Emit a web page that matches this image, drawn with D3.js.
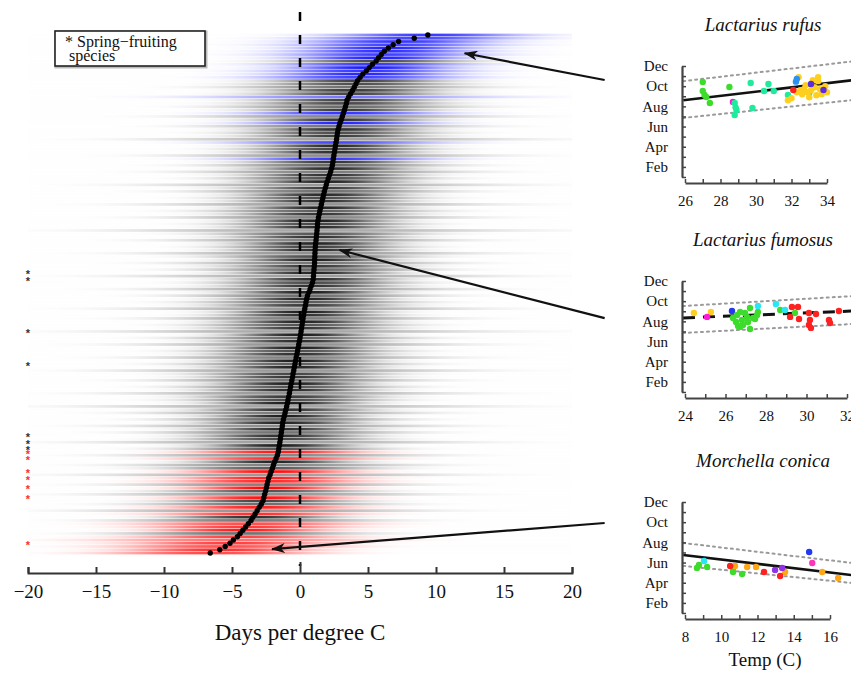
<!DOCTYPE html>
<html><head><meta charset="utf-8">
<script src="https://cdn.jsdelivr.net/npm/d3@7"></script>
<style>
body{margin:0;background:#fff}
svg{display:block}
text{font-family:"Liberation Serif","Times New Roman",serif;fill:#111}
</style>
</head><body>
<svg id="chart" width="851" height="674"></svg>
<script>
// ---------- DATA: main panel (species sorted by response, bottom -> top) ----------
const slopes = [
-6.6,-5.9,-5.5,-5.15,-4.9,-4.6,-4.4,-4.2,-4.0,-3.8,
-3.6,-3.46,-3.3,-3.15,-3.0,-2.85,-2.72,-2.66,-2.6,-2.53,
-2.47,-2.42,-2.37,-2.3,-2.2,-2.12,-2.03,-1.95,-1.86,-1.76,
-1.66,-1.6,-1.56,-1.52,-1.48,-1.44,-1.41,-1.37,-1.34,-1.3,
-1.27,-1.22,-1.16,-1.1,-1.04,-0.98,-0.93,-0.88,-0.83,-0.78,
-0.74,-0.69,-0.65,-0.6,-0.55,-0.51,-0.46,-0.42,-0.37,-0.32,
-0.28,-0.23,-0.18,-0.13,-0.09,-0.05,0.0,0.04,0.08,0.11,
0.15,0.19,0.22,0.26,0.3,0.35,0.4,0.44,0.49,0.55,
0.65,0.74,0.83,0.92,0.97,0.99,1.01,1.03,1.05,1.07,
1.08,1.09,1.1,1.11,1.13,1.15,1.18,1.2,1.23,1.25,
1.27,1.29,1.32,1.36,1.41,1.46,1.52,1.57,1.62,1.68,
1.74,1.79,1.86,1.93,2.0,2.08,2.16,2.25,2.32,2.38,
2.42,2.45,2.49,2.53,2.57,2.61,2.65,2.69,2.72,2.76,
2.8,2.87,2.94,3.03,3.11,3.19,3.27,3.34,3.41,3.46,
3.58,3.72,3.86,3.99,4.12,4.24,4.42,4.62,4.88,5.1,
5.33,5.6,5.78,5.98,6.2,6.5,6.85,7.25,8.4,9.4];

// posterior spread (days per degree) of each species
const spreads = [
4.8,4.2,5.0,4.5,6.0,4.6,5.2,3.8,4.4,4.9,
5.5,3.6,4.2,6.8,3.9,5.1,4.0,3.7,6.5,4.3,
3.5,5.8,4.1,3.9,7.2,3.6,4.5,5.9,3.4,4.2,
6.1,3.8,4.4,3.3,7.5,4.0,3.6,5.2,3.5,6.3,
3.4,4.7,3.2,5.5,3.6,8.0,3.3,4.1,3.8,6.7,
3.5,4.4,3.2,5.3,3.7,4.0,7.0,3.4,4.6,3.3,
5.8,3.6,4.2,3.3,6.4,3.5,4.8,3.2,7.8,3.7,
4.3,3.4,5.6,3.6,3.3,6.9,3.8,4.5,3.4,5.1,
3.3,6.2,3.6,4.1,3.5,7.4,3.4,4.8,3.7,5.4,
3.3,4.2,6.6,3.5,3.9,3.4,5.7,3.6,4.4,8.2,
3.5,4.0,3.3,5.9,3.7,4.6,3.4,6.8,3.6,4.1,
3.5,5.2,3.8,7.1,3.4,4.3,3.6,5.6,3.5,4.9,
3.7,4.4,6.3,3.6,4.0,3.5,4.7,7.6,3.8,4.2,
3.6,5.3,4.0,3.7,6.0,4.3,3.8,5.0,4.1,3.9,
6.4,4.0,3.8,5.2,4.2,3.9,4.6,4.0,4.3,3.8,
4.4,4.1,3.9,4.5,4.2,4.0,4.6,4.3,4.7,4.4];

const blueRows = [121,126,132,135,140,146,147,148,149,150,152,153,154,155,156,157,158,159];
const redRows = [0,1,2,3,4,5,7,8,9,12,14,17,20,22,23,25,29,31];
const springRows = [3,17,20,23,25,29,31,32,34,36,58,68,84,86];
const xTicks = [-20,-15,-10,-5,0,5,10,15,20];
const xTickLabels = ["\u221220","\u221215","\u221210","\u22125","0","5","10","15","20"];

// arrows: from panel side to species in main panel (slope, row)
const arrowFrom = [[22.4,145.2],[22.4,72.1],[22.4,9.2]];
const arrowTo = [[12.1,153.4],[2.9,93.0],[-2.06,1.2]];

// ---------- DATA: side panels ----------
const monthTicks = [1,2,3,4,5,6,7,8,9,10,11,12];
const monthLabels = {2:"Feb",4:"Apr",6:"Jun",8:"Aug",10:"Oct",12:"Dec"};

const rufusPoints = [
[27.0,10.42,"green"],[27.0,9.52,"green"],[27.1,9.13,"green"],[27.2,8.93,"green"],[27.4,8.34,"green"],[28.5,9.92,"green"],
[28.7,8.44,"magenta"],
[28.8,8.34,"teal"],[28.9,7.64,"teal"],[28.8,7.15,"teal"],[28.85,7.9,"teal"],[29.7,10.32,"teal"],[29.8,7.84,"teal"],
[30.45,9.52,"teal"],[30.7,10.22,"teal"],[31.0,9.52,"teal"],[31.8,9.13,"teal"],[33.0,9.33,"teal"],
[31.8,8.6,"yellow"],[32.0,8.8,"yellow"],[32.4,10.9,"yellow"],[32.5,9.6,"yellow"],[32.6,9.2,"yellow"],[32.8,10.1,"yellow"],
[32.9,9.4,"yellow"],[33.0,8.9,"yellow"],[33.2,10.6,"yellow"],[33.3,9.9,"yellow"],[33.4,9.1,"yellow"],[33.5,10.5,"yellow"],
[33.6,9.7,"yellow"],[33.7,9.2,"yellow"],[34.0,9.4,"yellow"],[33.9,10.0,"yellow"],[32.3,9.4,"yellow"],[33.1,9.6,"yellow"],
[32.7,9.7,"yellow"],[33.5,10.9,"yellow"],
[32.1,9.62,"red"],[32.3,10.71,"blue"],[32.25,10.45,"blue"],[33.1,10.22,"purple"],[33.8,9.62,"purple"]];

const fumosusPoints = [
[24.44,8.83,"yellow"],[25.28,8.93,"yellow"],[25.09,8.44,"magenta"],[26.32,9.03,"navy"],
[26.37,8.34,"green"],[26.57,8.63,"green"],[26.72,8.93,"green"],[26.81,8.14,"green"],[26.86,7.64,"green"],[26.72,7.45,"green"],
[27.06,8.44,"green"],[26.96,8.83,"green"],[27.11,7.94,"green"],[27.21,9.33,"green"],[27.21,7.25,"green"],[27.36,8.34,"green"],
[27.56,8.63,"green"],[27.6,8.93,"green"],[27.46,8.24,"green"],[28.7,9.13,"green"],[29.43,8.83,"green"],[26.52,7.94,"green"],[26.62,7.55,"green"],
[27.6,9.52,"cyan"],[28.49,9.72,"cyan"],[28.94,9.13,"cyan"],
[29.28,9.43,"red"],[29.58,9.43,"red"],[29.19,8.44,"red"],[29.63,8.24,"red"],[30.12,8.83,"red"],[30.47,8.73,"red"],
[30.17,8.14,"red"],[30.12,7.64,"red"],[30.22,7.35,"red"],[31.11,8.14,"red"],[31.16,7.84,"red"],[31.6,9.03,"red"]];

const conicaPoints = [
[8.66,5.47,"green"],[8.77,5.76,"green"],[9.22,5.56,"green"],[10.65,5.47,"green"],[10.65,5.07,"green"],[11.15,4.87,"green"],
[9.05,6.16,"cyan"],
[10.76,5.66,"orange"],[11.43,5.56,"orange"],[11.92,5.56,"orange"],[13.52,5.07,"orange"],[15.57,5.07,"orange"],[16.45,4.48,"orange"],
[10.49,5.66,"red"],[12.36,5.07,"red"],[13.25,4.67,"red"],
[12.97,5.27,"violet"],[13.36,5.47,"violet"],
[14.85,7.05,"navy"],[15.02,5.96,"pink"]];

const rufusLines = [
{kind:"band", t:[25.9,35.4], m:[10.5,12.45]},
{kind:"band", t:[25.9,35.4], m:[6.85,8.62]},
{kind:"fit", t:[25.9,35.4], m:[8.61,10.58]}];
const fumosusLines = [
{kind:"band", t:[23.9,32.3], m:[9.52,10.51]},
{kind:"band", t:[23.9,32.3], m:[6.85,7.74]},
{kind:"fitDashed", t:[23.9,32.3], m:[8.34,9.03]}];
const conicaLines = [
{kind:"band", t:[7.9,17.3], m:[7.94,5.94]},
{kind:"band", t:[7.9,17.3], m:[5.67,3.96]},
{kind:"fit", t:[7.9,17.3], m:[6.75,4.74]}];

const pointColors = {green:"#3ddc2c", teal:"#1eeb9c", yellow:"#ffcf1f", orange:"#ffa615", red:"#ff2020",
  blue:"#2b92f2", navy:"#2338f2", purple:"#5a2ee0", violet:"#9430e6", magenta:"#ff18d8", cyan:"#28e6f4", pink:"#ff34b8"};

// ---------- DRAW ----------
const svg = d3.select("#chart");
const defs = svg.append("defs");

const x = d3.scaleLinear().domain([-20,20]).range([28,572]);
const yRow = d3.scaleLinear().domain([0, slopes.length-1]).range([553,35]);
const rowH = Math.abs(yRow(1)-yRow(0));
const groupOf = i => blueRows.includes(i) ? "blue" : (redRows.includes(i) ? "red" : "black");
const groupColor = {black:"#000000", blue:"#0000ff", red:"#ff0000"};

// gradient bands
const bandG = svg.append("g");
slopes.forEach((mu,i)=>{
  const sd = spreads[i];
  const grp = groupOf(i);
  const col = groupColor[grp];
  const peak = grp==="black" ? Math.min(0.88, 2.9/sd) : Math.min(1, 3.4/sd);
  const g = defs.append("linearGradient").attr("id","band"+i)
    .attr("gradientUnits","userSpaceOnUse")
    .attr("x1", x(mu-3.2*sd)).attr("x2", x(mu+3.2*sd)).attr("y1",0).attr("y2",0);
  d3.range(0,33).forEach(k=>{
    const z = -3.2 + 6.4*k/32;
    g.append("stop").attr("offset", k/32).attr("stop-color", col)
      .attr("stop-opacity", peak*Math.exp(-z*z/2));
  });
  bandG.append("rect")
    .attr("x", x(-20)).attr("width", x(20)-x(-20))
    .attr("y", yRow(i)-rowH*0.42).attr("height", rowH*0.84)
    .attr("fill", `url(#band${i})`);
});

// dashed zero line
svg.append("line").attr("x1",x(0)).attr("x2",x(0)).attr("y1",12).attr("y2",566)
  .attr("stroke","#000").attr("stroke-width",2.5).attr("stroke-dasharray","9,14");

// posterior means
svg.append("g").selectAll("circle").data(slopes).join("circle")
  .attr("cx", d=>x(d)).attr("cy", (d,i)=>yRow(i)).attr("r",2.7).attr("fill","#000");

// spring-fruiting asterisks
svg.append("g").selectAll("text").data(springRows).join("text")
  .attr("x", x(-20)).attr("y", d=>yRow(d)+5.5).attr("text-anchor","middle")
  .style("font-size","11px").style("font-weight","bold").style("font-family","Liberation Sans, Arial, sans-serif")
  .style("fill", d=>groupOf(d)==="red" ? "#ff3030" : "#333").text("*");

// x axis
const xAxis = d3.axisBottom(x).tickValues(xTicks).tickSize(-6).tickPadding(12).tickSizeOuter(-6)
  .tickFormat((d,i)=>xTickLabels[i]);
const gx = svg.append("g").attr("transform","translate(0,573)").call(xAxis);
gx.select(".domain").attr("stroke","#333").attr("stroke-width",2);
gx.selectAll(".tick line").attr("stroke","#333").attr("stroke-width",2);
gx.selectAll(".tick text").style("font-size","19px").style("font-family","Liberation Serif, serif").style("fill","#111");
gx.selectAll(".tick").filter(d=>d===0).select("line").attr("y2",-11);
svg.append("text").attr("x",x(0)).attr("y",640).attr("text-anchor","middle")
  .style("font-size","23px").text("Days per degree C");

// legend
svg.append("rect").attr("x",56).attr("y",32).attr("width",150).attr("height",35)
  .attr("fill","#fff").attr("stroke","#bbb").attr("stroke-width",3);
svg.append("rect").attr("x",55).attr("y",31).attr("width",150).attr("height",35)
  .attr("fill","#fff").attr("stroke","#222").attr("stroke-width",1.6);
svg.append("text").attr("x",65).attr("y",47).style("font-size","16px").text("* Spring\u2212fruiting");
svg.append("text").attr("x",69).attr("y",61).style("font-size","16px").text("species");

// arrows
defs.append("marker").attr("id","arrowhead").attr("viewBox","0 0 14 10").attr("refX",13).attr("refY",5)
  .attr("markerWidth",14).attr("markerHeight",10).attr("markerUnits","userSpaceOnUse").attr("orient","auto")
  .append("path").attr("d","M14,5 L0,0 L4,5 L0,10 Z").attr("fill","#111");
svg.append("g").selectAll("line").data(arrowFrom).join("line")
  .attr("x1", d=>x(d[0])).attr("y1", d=>yRow(d[1]))
  .attr("x2", (d,i)=>x(arrowTo[i][0])).attr("y2", (d,i)=>yRow(arrowTo[i][1]))
  .attr("stroke","#111").attr("stroke-width",2.2).attr("marker-end","url(#arrowhead)");

// ---------- side panels ----------
const panels = [
  {title:"Lactarius rufus", decY:66, xDom:[26,34], xRange:[685,827], xTickVals:d3.range(26,35), pts:rufusPoints, lines:rufusLines},
  {title:"Lactarius fumosus", decY:281, xDom:[24,32], xRange:[685,847], xTickVals:d3.range(24,33), pts:fumosusPoints, lines:fumosusLines},
  {title:"Morchella conica", decY:502, xDom:[8,16], xRange:[685,830], xTickVals:d3.range(8,17), pts:conicaPoints, lines:conicaLines}
];

panels.forEach(p=>{
  const px = d3.scaleLinear().domain(p.xDom).range(p.xRange);
  const py = d3.scaleLinear().domain([1,12]).range([p.decY+111, p.decY]);
  const g = svg.append("g");

  // title
  g.append("text").attr("x",763).attr("y",p.decY-35).attr("text-anchor","middle")
    .style("font-size","19px").style("font-style","italic").text(p.title);

  // lines
  const lineGen = d3.line().x(d=>px(d[0])).y(d=>py(d[1]));
  p.lines.forEach(l=>{
    const path = g.append("path").datum([[l.t[0],l.m[0]],[l.t[1],l.m[1]]]).attr("d",lineGen).attr("fill","none");
    if(l.kind==="band") path.attr("stroke","#9a9a9a").attr("stroke-width",2).attr("stroke-dasharray","2,4").attr("stroke-linecap","round");
    else if(l.kind==="fit") path.attr("stroke","#111").attr("stroke-width",2.6);
    else path.attr("stroke","#111").attr("stroke-width",3).attr("stroke-dasharray","12,8");
  });

  // points
  g.append("g").selectAll("circle").data(p.pts).join("circle")
    .attr("cx",d=>px(d[0])).attr("cy",d=>py(d[1])).attr("r",3.2).attr("fill",d=>pointColors[d[2]]);

  // y axis
  const ya = d3.axisLeft(py).tickValues(monthTicks).tickSize(-4).tickSizeOuter(0).tickPadding(14)
    .tickFormat(d=>monthLabels[d]||"");
  const gy = g.append("g").attr("transform","translate(682,0)").call(ya);
  gy.select(".domain").attr("stroke","#444").attr("stroke-width",2.2);
  gy.selectAll(".tick line").attr("stroke","#444").attr("stroke-width",1.5);
  gy.selectAll(".tick text").style("font-size","15px").style("font-family","Liberation Serif, serif").style("fill","#111");

  // x axis
  const xa = d3.axisBottom(px).tickValues(p.xTickVals).tickSize(-4).tickSizeOuter(0).tickPadding(12)
    .tickFormat(d=>d%2===0 ? d : "");
  const gxx = g.append("g").attr("transform",`translate(0,${p.decY+117})`).call(xa);
  gxx.select(".domain").attr("stroke","#444").attr("stroke-width",2.2);
  gxx.selectAll(".tick line").attr("stroke","#444").attr("stroke-width",1.5);
  gxx.selectAll(".tick text").style("font-size","15px").style("font-family","Liberation Serif, serif").style("fill","#111");
});

svg.append("text").attr("x",765).attr("y",666).attr("text-anchor","middle").style("font-size","19px").text("Temp (C)");
</script>
</body></html>
